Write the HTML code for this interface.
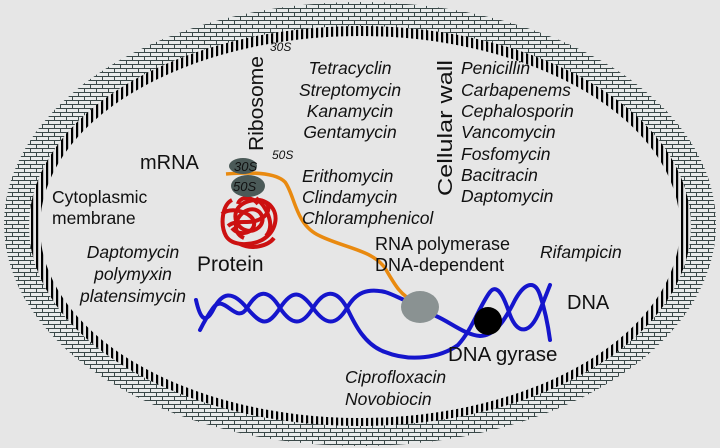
<!DOCTYPE html>
<html><head><style>
body{margin:0;background:#e6e6e6}
svg{display:block}
text{font-family:"Liberation Sans",Arial,sans-serif;fill:#111}
</style></head><body>
<svg width="720" height="448" viewBox="0 0 720 448">
<defs>
<pattern id="brick" width="12" height="8" patternUnits="userSpaceOnUse">
<rect width="12" height="8" fill="#e8eaea"/>
<path d="M0 0.5H12M0 4.5H12M0.5 0V4.5M6.5 4.5V8" stroke="#3a4848" stroke-width="1"/>
</pattern>
<pattern id="hatch" width="5" height="10" patternUnits="userSpaceOnUse">
<rect width="5" height="10" fill="#e6e6e6"/>
<rect x="1" width="2.2" height="10" fill="#000"/>
</pattern>
</defs>
<rect width="720" height="448" fill="#e6e6e6"/>
<ellipse cx="360" cy="224" rx="356" ry="222" fill="url(#brick)"/>
<ellipse cx="360" cy="226" rx="331" ry="200" fill="url(#hatch)"/>
<ellipse cx="360" cy="227" rx="320" ry="191" fill="#e6e6e6"/>

<path d="M226 174 C250 172 275 172 285 182 C295 195 295 225 320 236 C345 248 372 250 385 268 C395 285 400 295 415 302" fill="none" stroke="#e98a10" stroke-width="3.5"/>
<g fill="none" stroke="#cc1111" stroke-width="4" stroke-linejoin="round">
<path d="M232 200 C222 205 220 225 226 236 C232 246 250 246 262 240 C276 232 280 215 270 205 C260 196 240 200 236 212 C232 226 248 236 258 228 C268 220 260 206 248 210 C236 214 230 232 244 238"/>
<path d="M222 214 C230 206 252 212 254 222 C256 232 240 238 232 228 M256 198 C266 206 276 225 266 236 M240 244 C252 250 268 246 274 238 M238 204 C240 196 252 196 258 204"/>
<path d="M228 226 C238 218 250 226 262 218 C272 212 270 200 258 200"/>
</g>
<ellipse cx="243" cy="166" rx="14" ry="8" fill="#4b5a58"/>
<ellipse cx="248" cy="186" rx="17" ry="11" fill="#4b5a58"/>
<text x="234" y="171" font-size="13" font-style="italic">30S</text>
<text x="233" y="191" font-size="13" font-style="italic">50S</text>

<g fill="none" stroke="#1515cc" stroke-width="4" stroke-linejoin="round" stroke-linecap="round">
<path d="M196 300 C200 318 205 325 213 310 C222 292 232 290 247 308 C262 326 268 326 280 308 C292 290 300 290 313 308 C326 326 336 326 347 308 C356 292 368 288 385 292 C395 295 402 300 410 302"/>
<path d="M200 330 C204 322 208 315 213 308 C224 292 236 326 247 308 C258 290 268 288 280 308 C292 326 302 326 313 308 C324 290 336 288 347 308 C355 325 365 345 385 352 C410 362 440 358 458 345 C472 330 480 305 490 292 C498 282 505 300 510 315 C518 335 530 335 540 310 C545 298 548 290 550 285"/>
<path d="M436 316 C450 322 465 335 480 336 C495 336 505 320 515 300 C525 282 535 280 540 295 C545 310 548 325 550 340"/>
</g>
<ellipse cx="420" cy="307" rx="19" ry="16" fill="#8a9292"/>
<circle cx="488" cy="321" r="14" fill="#000"/>

<text x="270" y="51" font-size="12" font-style="italic">30S</text>
<text x="272" y="159" font-size="12" font-style="italic">50S</text>
<text transform="translate(263,151) rotate(-90)" font-size="20" textLength="95" lengthAdjust="spacingAndGlyphs">Ribosome</text>
<text transform="translate(452,196) rotate(-90)" font-size="20" textLength="136" lengthAdjust="spacingAndGlyphs">Cellular wall</text>
<g text-anchor="middle" font-size="17.5" font-style="italic">
<text x="350" y="74">Tetracyclin</text>
<text x="350" y="96">Streptomycin</text>
<text x="350" y="117">Kanamycin</text>
<text x="350" y="138">Gentamycin</text>
<text x="133" y="258">Daptomycin</text>
<text x="133" y="280">polymyxin</text>
<text x="133" y="302">platensimycin</text>
</g>
<g font-size="17.5" font-style="italic">
<text x="302" y="182">Erithomycin</text>
<text x="302" y="203">Clindamycin</text>
<text x="302" y="224">Chloramphenicol</text>
<text x="461" y="74">Penicillin</text>
<text x="461" y="96">Carbapenems</text>
<text x="461" y="117">Cephalosporin</text>
<text x="461" y="138">Vancomycin</text>
<text x="461" y="160">Fosfomycin</text>
<text x="461" y="181">Bacitracin</text>
<text x="461" y="202">Daptomycin</text>
<text x="540" y="258">Rifampicin</text>
<text x="345" y="383">Ciprofloxacin</text>
<text x="345" y="405">Novobiocin</text>
</g>
<g font-size="17.5">
<text x="52" y="203">Cytoplasmic</text>
<text x="52" y="224">membrane</text>
</g>
<g font-size="18">
<text x="375" y="250">RNA polymerase</text>
<text x="375" y="271">DNA-dependent</text>
</g>
<text x="140" y="169" font-size="20">mRNA</text>
<text x="197" y="271" font-size="21">Protein</text>
<text x="567" y="309" font-size="20">DNA</text>
<text x="448" y="361" font-size="20.5">DNA gyrase</text>
</svg>
</body></html>
